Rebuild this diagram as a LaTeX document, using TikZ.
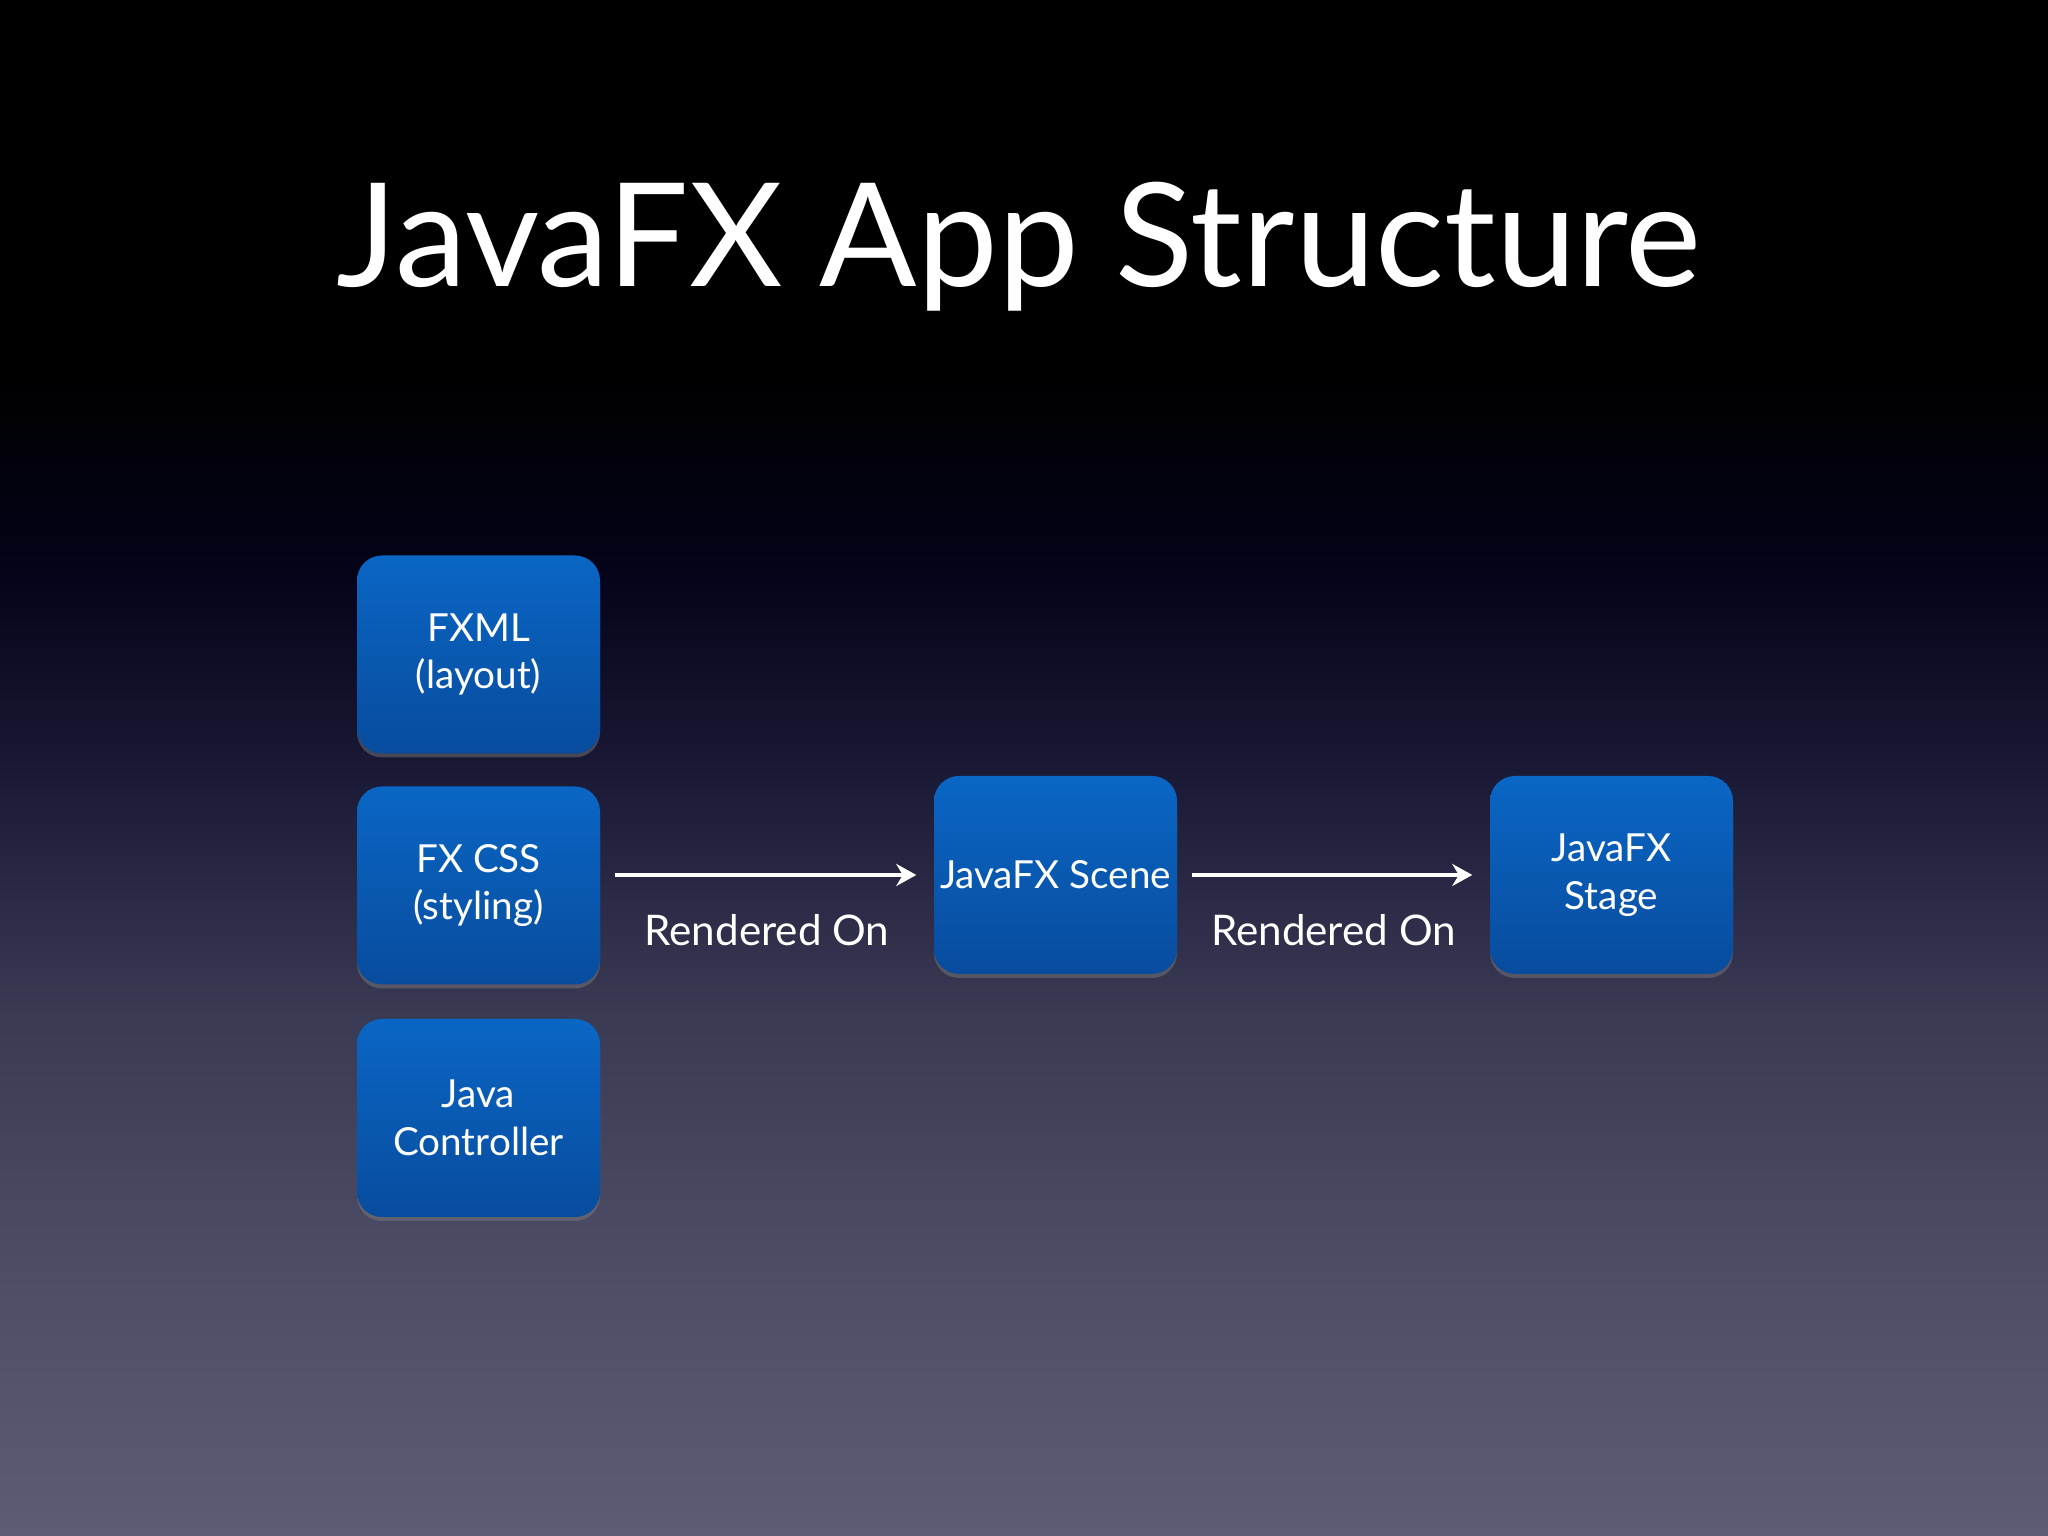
\documentclass[tikz,border=0pt]{standalone}
\usepackage{fontspec}
\setmainfont{Lato}
\usetikzlibrary{arrows.meta,shadows,positioning}

% slide background, black at the top fading to grey-violet
\definecolor{bgA}{HTML}{000000}
\definecolor{bgB}{HTML}{040318}
\definecolor{bgC}{HTML}{191936}
\definecolor{bgD}{HTML}{3A3A55}
\definecolor{bgE}{HTML}{4E4D66}
\definecolor{bgF}{HTML}{5E5C74}
\definecolor{boxtop}{HTML}{0A66C4}
\definecolor{boxbot}{HTML}{084C9E}
\pgfdeclareverticalshading{slidebg}{100bp}{color(0bp)=(bgF); color(25bp)=(bgF); color(33.5bp)=(bgE); color(42bp)=(bgD); color(50bp)=(bgC); color(56.5bp)=(bgB); color(63bp)=(bgA); color(100bp)=(bgA)}

\begin{document}
\begin{tikzpicture}[>=Stealth,
  box/.style={rounded corners=0.25cm, minimum width=2.43cm, minimum height=1.98cm,
    inner xsep=1pt, top color=boxtop, bottom color=boxbot, text=white, align=center,
    font=\fontsize{11}{13.5}\selectfont,
    drop shadow={opacity=0.45, shadow xshift=0pt, shadow yshift=-0.4mm}},
  flow/.style={-{Stealth[length=2mm,width=2.2mm]}, white, line width=1.1pt,
    shorten <=0.14cm, shorten >=0.17cm},
  flowlabel/.style={text=white, font=\fontsize{12}{14}\selectfont}]
  % Background
  \shade[shading=slidebg] (0,0) rectangle (20.48,15.36);
  \useasboundingbox (0,0) rectangle (20.48,15.36);

  % Title
  \node[anchor=base, text=white, font=\fontsize{41}{46}\selectfont] (title) at (10.19,12.49) {JavaFX App Structure};

  % Sources
  \node[box] (fxml) at (4.785,8.815) {FXML\\(layout)};
  \node[box] (fxcss) at (4.785,6.505) {FX CSS\\(styling)};
  \node[box] (ctrl) at (4.785,4.18) {Java\\Controller};

  % Scene and stage
  \node[box] (scene) at (10.555,6.61) {JavaFX Scene};
  \node[box] (stage) at (16.115,6.61) {JavaFX\\Stage};

  % Arrows
  \draw[flow] (fxcss.east |- scene.west) -- (scene.west) node[midway, below=0.26cm, flowlabel] {Rendered On};
  \draw[flow] (scene.east) -- (stage.west) node[midway, below=0.26cm, flowlabel] {Rendered On};
\end{tikzpicture}
\end{document}
